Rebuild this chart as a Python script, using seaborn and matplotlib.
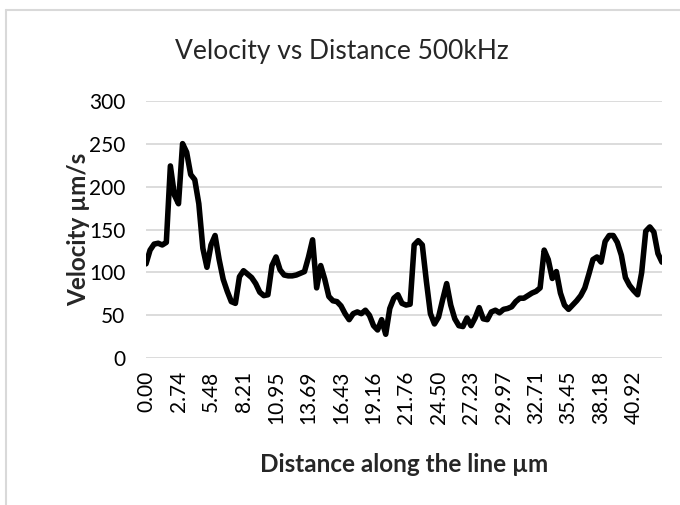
import numpy as np
import pandas as pd
import seaborn as sns
import matplotlib.pyplot as plt
from matplotlib.lines import Line2D

# velocity profile (um/s), one value per sample along the line
velocity = [110, 126, 133, 134, 132, 135, 224, 190, 180, 250,
            240, 214, 208, 180, 128, 106, 132, 143, 115, 92,
            78, 66, 64, 95, 102, 98, 94, 87, 77, 73,
            74, 108, 118, 103, 97, 96, 96, 97, 99, 101,
            118, 138, 82, 108, 92, 72, 67, 66, 61, 52,
            45, 52, 54, 52, 56, 50, 38, 33, 45, 28,
            58, 70, 74, 64, 62, 63, 132, 137, 132, 90,
            52, 40, 48, 68, 87, 62, 46, 38, 37, 47,
            38, 47, 59, 46, 45, 54, 56, 53, 57, 58,
            60, 66, 70, 70, 73, 76, 78, 82, 126, 115,
            93, 101, 76, 62, 57, 62, 67, 73, 82, 98,
            115, 118, 112, 136, 143, 143, 135, 120, 94, 85,
            79, 74, 100, 148, 153, 147, 122, 112]

tick_labels = ["0.00", "2.74", "5.48", "8.21", "10.95", "13.69", "16.43", "19.16",
               "21.76", "24.50", "27.23", "29.97", "32.71", "35.45", "38.18", "40.92"]
label_every = 8

df = pd.DataFrame({"point": range(len(velocity)), "velocity": velocity})

sns.set_theme(style="white")
plt.rcParams['font.family'] = ['Lato', 'DejaVu Sans']

fig = plt.figure(figsize=(6.8, 5.05), dpi=100)
W, H = 680, 505

# light chart border like Excel
fig.add_artist(Line2D([6 / W, 6 / W], [0, 1 - 10 / H], color="#d9d9d9", lw=1.5))
fig.add_artist(Line2D([6 / W, 1], [1 - 10 / H, 1 - 10 / H], color="#d9d9d9", lw=1.5))

ax = fig.add_axes([146 / W, 1 - 358.3 / H, (662 - 146) / W, (358.3 - 100.7) / H])
sns.lineplot(data=df, x="point", y="velocity", color="black", linewidth=4.0, ax=ax,
             solid_joinstyle="round", solid_capstyle="round")

ax.set_xlim(0, len(velocity) - 1)
ax.set_ylim(0, 300)
ax.set_yticks(range(0, 301, 50))
ax.set_xticks([i * label_every for i in range(len(tick_labels))])
ax.set_xticklabels(tick_labels, rotation=90)
ax.yaxis.grid(True, color="#d9d9d9", lw=1.3)
ax.set_axisbelow(True)
for s in ax.spines.values():
    s.set_visible(False)
ax.tick_params(axis="both", length=0, labelsize=15, colors="black")
ax.tick_params(axis="y", pad=15)
ax.tick_params(axis="x", pad=9)

ax.set_xlabel("Distance along the line µm", fontsize=17.5, fontweight="bold", va="center")
ax.xaxis.set_label_coords(0.5, (358.3 - 464) / 257.6)
ax.set_ylabel("Velocity µm/s", fontsize=17.5, fontweight="bold", va="center")
ax.yaxis.set_label_coords((79 - 146) / 516, 0.5)
fig.text(342 / W, 1 - 52 / H, "Velocity vs Distance 500kHz", fontsize=19,
         ha="center", va="center")

fig.savefig("out.png", dpi=100)
